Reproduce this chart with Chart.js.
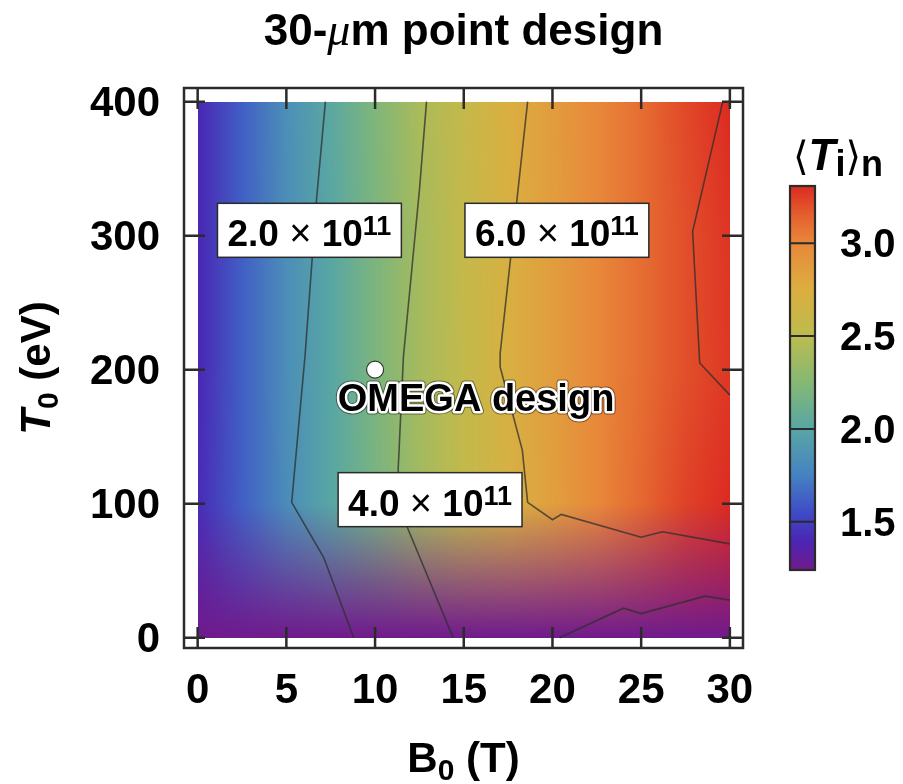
<!DOCTYPE html>
<html>
<head>
<meta charset="utf-8">
<script src="https://cdn.jsdelivr.net/npm/chart.js@4.4.0/dist/chart.umd.min.js"></script>
<style>
  html, body { margin: 0; padding: 0; background: #fff; }
  canvas { display: block; }
</style>
</head>
<body>
<canvas id="chart" width="903" height="784"></canvas>
<script>
// 30-um point design: <Ti>_n map over B0 / T0 with yield contours

// grid nodes
const bNodes = [0, 2.5, 5, 7.5, 10, 12.5, 15, 17.5, 20, 22.5, 25, 27.5, 30];
const tNodes = [0, 100, 200, 300, 400];
const tiAt0   = [1.24, 1.24, 1.24, 1.24, 1.24, 1.24, 1.24, 1.24, 1.24, 1.24, 1.24, 1.24, 1.24];
const tiAt100 = [1.42, 1.62, 1.82, 2.00, 2.18, 2.38, 2.55, 2.70, 2.85, 3.00, 3.12, 3.24, 3.31];
const tiAt200 = [1.40, 1.62, 1.83, 2.00, 2.20, 2.40, 2.55, 2.72, 2.86, 3.00, 3.10, 3.20, 3.27];
const tiAt300 = [1.40, 1.62, 1.83, 2.00, 2.20, 2.40, 2.56, 2.72, 2.86, 3.00, 3.10, 3.20, 3.28];
const tiAt400 = [1.40, 1.62, 1.84, 2.02, 2.22, 2.42, 2.57, 2.73, 2.87, 3.00, 3.10, 3.22, 3.31];

// colour map of the bar
const cmapValues = [1.24, 1.40, 1.55, 1.75, 2.00, 2.25, 2.50, 2.75, 3.00, 3.15, 3.31];
const cmapColors = ['#701a8c', '#4a26b4', '#3e4cc6', '#4682c2', '#58a6a4', '#84b874',
                    '#bcbc4e', '#dcae40', '#e8883a', '#e4602e', '#dc2a22'];

// yield contours (B0, T0)
const c2B = [7.2, 6.7, 6.05, 5.3, 7.1, 8.8];
const c2T = [400, 327, 210, 101, 60, 0];
const c4B = [12.9, 12.5, 11.6, 11.3, 11.8, 14.4];
const c4T = [400, 334, 210, 125, 83, 0];
const c6B = [18.6, 18.0, 17.05, 17.05, 18.3, 18.6, 20.0, 20.5, 25.0, 26.2, 30];
const c6T = [400, 327, 212, 202, 140, 101, 88, 92, 75, 79, 70];
const c8B = [29.6, 27.9, 28.3, 30];
const c8T = [400, 303, 205, 181];
const cLowB = [20.4, 24.0, 25.0, 28.6, 30];
const cLowT = [0, 22, 18, 31, 28];

const labelTexts = ['2.0', '6.0', '4.0'];
const labelB = [6.3, 20.25, 13.1];
const labelT = [304, 304, 103];

const omegaB = [10];
const omegaT = [200];

const bTicks = [0, 5, 10, 15, 20, 25, 30];
const tTicks = [0, 100, 200, 300, 400];
const cbTicks = [1.5, 2.0, 2.5, 3.0];
const cbMin = 1.24, cbMax = 3.31;

const SANS = '"Liberation Sans", Arial, Helvetica, sans-serif';
const INK = '#2b2b2b';

function hexToRgb(h) {
    return [parseInt(h.slice(1, 3), 16), parseInt(h.slice(3, 5), 16), parseInt(h.slice(5, 7), 16)];
}
const cmapRgb = cmapColors.map(hexToRgb);

function colorFor(v) {
    if (v <= cmapValues[0]) return cmapRgb[0];
    for (let i = 1; i < cmapValues.length; i++) {
        if (v <= cmapValues[i]) {
            const f = (v - cmapValues[i - 1]) / (cmapValues[i] - cmapValues[i - 1]);
            const a = cmapRgb[i - 1], b = cmapRgb[i];
            return [a[0] + (b[0] - a[0]) * f, a[1] + (b[1] - a[1]) * f, a[2] + (b[2] - a[2]) * f];
        }
    }
    return cmapRgb[cmapRgb.length - 1];
}

function findCell(nodes, v) {
    let k = 0;
    while (k < nodes.length - 2 && v > nodes[k + 1]) k++;
    let f = (v - nodes[k]) / (nodes[k + 1] - nodes[k]);
    return [k, Math.max(0, Math.min(1, f))];
}

function pairs(bs, ts) {
    return bs.map((b, i) => ({ x: b, y: ts[i] }));
}

// draws a row of text pieces with their own fonts
function drawRuns(ctx, runs, x, y, align) {
    let total = 0;
    runs.forEach(r => { ctx.font = r.font; r.w = ctx.measureText(r.text).width; total += r.w; });
    let cx = align === 'center' ? x - total / 2 : (align === 'right' ? x - total : x);
    runs.forEach(r => {
        ctx.font = r.font;
        ctx.fillText(r.text, cx, y + (r.dy || 0));
        cx += r.w;
    });
    return total;
}

const heatmapPlugin = {
    id: 'heatmap',
    beforeDatasetsDraw(chart) {
        const { ctx, scales: { x, y } } = chart;
        const rows = [tiAt0, tiAt100, tiAt200, tiAt300, tiAt400];
        const nodeRgb = rows.map(r => r.map(colorFor));
        const x0 = Math.round(x.getPixelForValue(bNodes[0]));
        const x1 = Math.round(x.getPixelForValue(bNodes[bNodes.length - 1]));
        const y0 = Math.round(y.getPixelForValue(tNodes[tNodes.length - 1]));
        const y1 = Math.round(y.getPixelForValue(tNodes[0]));
        const w = x1 - x0, h = y1 - y0;
        const off = document.createElement('canvas');
        off.width = w; off.height = h;
        const octx = off.getContext('2d');
        const img = octx.createImageData(w, h);
        for (let j = 0; j < h; j++) {
            const [k, ft] = findCell(tNodes, y.getValueForPixel(y0 + j + 0.5));
            for (let i = 0; i < w; i++) {
                const [m, fb] = findCell(bNodes, x.getValueForPixel(x0 + i + 0.5));
                const c00 = nodeRgb[k][m], c01 = nodeRgb[k][m + 1];
                const c10 = nodeRgb[k + 1][m], c11 = nodeRgb[k + 1][m + 1];
                const p = (j * w + i) * 4;
                for (let ch = 0; ch < 3; ch++) {
                    const lo = c00[ch] + (c01[ch] - c00[ch]) * fb;
                    const hi = c10[ch] + (c11[ch] - c10[ch]) * fb;
                    img.data[p + ch] = lo + (hi - lo) * ft;
                }
                img.data[p + 3] = 255;
            }
        }
        octx.putImageData(img, 0, 0);
        ctx.drawImage(off, x0, y0);
    }
};

const overlayPlugin = {
    id: 'overlay',
    afterDatasetsDraw(chart) {
        const { ctx, chartArea: a, scales: { x, y } } = chart;
        ctx.save();
        ctx.strokeStyle = INK;
        ctx.lineWidth = 2.5;
        ctx.strokeRect(a.left, a.top, a.right - a.left, a.bottom - a.top);
        // inward ticks on all four sides
        ctx.beginPath();
        bTicks.forEach(b => {
            const px = x.getPixelForValue(b);
            ctx.moveTo(px, a.bottom); ctx.lineTo(px, a.bottom - 21);
            ctx.moveTo(px, a.top); ctx.lineTo(px, a.top + 21);
        });
        tTicks.forEach(t => {
            const py = y.getPixelForValue(t);
            ctx.moveTo(a.left, py); ctx.lineTo(a.left + 21, py);
            ctx.moveTo(a.right, py); ctx.lineTo(a.right - 21, py);
        });
        ctx.stroke();

        // contour value boxes
        labelTexts.forEach((txt, i) => {
            const cx = x.getPixelForValue(labelB[i]);
            const cy = y.getPixelForValue(labelT[i]);
            const runs = [
                { text: txt + ' ', font: 'bold 37px ' + SANS },
                { text: '\u00d7', font: '38px ' + SANS },
                { text: ' 10', font: 'bold 37px ' + SANS },
                { text: '11', font: 'bold 27px ' + SANS, dy: -11 }
            ];
            let tw = 0;
            runs.forEach(r => { ctx.font = r.font; tw += ctx.measureText(r.text).width; });
            const bw = tw + 20, bh = 54;
            ctx.fillStyle = '#fff';
            ctx.fillRect(cx - bw / 2, cy - bh / 2, bw, bh);
            ctx.strokeStyle = INK;
            ctx.lineWidth = 1.5;
            ctx.strokeRect(cx - bw / 2, cy - bh / 2, bw, bh);
            ctx.fillStyle = '#000';
            ctx.textBaseline = 'alphabetic';
            drawRuns(ctx, runs, cx, cy + 16, 'center');
        });

        // OMEGA design label with a white halo
        const ox = x.getPixelForValue(omegaB[0]) + 101;
        const oy = y.getPixelForValue(omegaT[0]) + 41;
        ctx.font = 'bold 38px ' + SANS;
        ctx.textAlign = 'center';
        ctx.textBaseline = 'alphabetic';
        ctx.lineJoin = 'round';
        ctx.strokeStyle = 'rgba(0,0,0,0.45)';
        ctx.lineWidth = 7;
        ctx.strokeText('OMEGA design', ox, oy);
        ctx.strokeStyle = '#fff';
        ctx.lineWidth = 5;
        ctx.strokeText('OMEGA design', ox, oy);
        ctx.fillStyle = '#000';
        ctx.fillText('OMEGA design', ox, oy);
        ctx.restore();
    },
    afterDraw(chart) {
        const { ctx, chartArea: a, scales: { x, y, cb } } = chart;
        ctx.save();
        ctx.fillStyle = '#000';
        ctx.textBaseline = 'alphabetic';

        // tick labels
        ctx.font = 'bold 42px ' + SANS;
        ctx.textAlign = 'center';
        bTicks.forEach(b => ctx.fillText(String(b), x.getPixelForValue(b), a.bottom + 55));
        ctx.textAlign = 'right';
        tTicks.forEach(t => ctx.fillText(String(t), 160, y.getPixelForValue(t) + 14));
        ctx.textAlign = 'left';

        // title
        drawRuns(ctx, [
            { text: '30-', font: 'bold 44px ' + SANS },
            { text: '\u03bc', font: 'italic 46px "Liberation Serif", serif' },
            { text: 'm point design', font: 'bold 44px ' + SANS }
        ], (a.left + a.right) / 2, 45, 'center');

        // x axis title
        drawRuns(ctx, [
            { text: 'B', font: 'bold 42px ' + SANS },
            { text: '0', font: 'bold 30px ' + SANS, dy: 8 },
            { text: ' (T)', font: 'bold 42px ' + SANS }
        ], (a.left + a.right) / 2, 772, 'center');

        // y axis title
        ctx.save();
        ctx.translate(50, (a.top + a.bottom) / 2);
        ctx.rotate(-Math.PI / 2);
        drawRuns(ctx, [
            { text: 'T', font: 'italic bold 42px ' + SANS },
            { text: '0', font: 'bold 30px ' + SANS, dy: 8 },
            { text: ' (eV)', font: 'bold 42px ' + SANS }
        ], 0, 0, 'center');
        ctx.restore();

        // colour bar
        const bx0 = 790, bx1 = 815;
        const top = Math.round(cb.getPixelForValue(cbMax));
        const bot = Math.round(cb.getPixelForValue(cbMin));
        for (let py = top; py < bot; py++) {
            const c = colorFor(cb.getValueForPixel(py + 0.5));
            ctx.fillStyle = 'rgb(' + c.map(Math.round).join(',') + ')';
            ctx.fillRect(bx0, py, bx1 - bx0, 1);
        }
        ctx.strokeStyle = INK;
        ctx.lineWidth = 2;
        ctx.beginPath();
        cbTicks.forEach(v => {
            const py = cb.getPixelForValue(v);
            ctx.moveTo(bx0, py); ctx.lineTo(bx1, py);
        });
        ctx.stroke();
        ctx.lineWidth = 2.2;
        ctx.strokeRect(bx0, top, bx1 - bx0, bot - top);

        ctx.fillStyle = '#000';
        ctx.font = 'bold 40px ' + SANS;
        ctx.textAlign = 'left';
        cbTicks.forEach(v => ctx.fillText(v.toFixed(1), 840, cb.getPixelForValue(v) + 14));

        drawRuns(ctx, [
            { text: '\u27e8', font: '40px "DejaVu Sans", sans-serif' },
            { text: 'T', font: 'italic bold 44px ' + SANS },
            { text: 'i', font: 'bold 36px ' + SANS, dy: 6 },
            { text: '\u27e9', font: '40px "DejaVu Sans", sans-serif' },
            { text: 'n', font: 'bold 36px ' + SANS, dy: 6 }
        ], 793, 170, 'left');
        ctx.restore();
    }
};

const lineStyle = {
    showLine: true,
    pointRadius: 0,
    borderColor: 'rgba(45,45,45,0.75)',
    borderWidth: 1.6,
    fill: false,
    tension: 0
};

new Chart(document.getElementById('chart'), {
    type: 'scatter',
    data: {
        datasets: [
            Object.assign({ label: '2e11', data: pairs(c2B, c2T) }, lineStyle),
            Object.assign({ label: '4e11', data: pairs(c4B, c4T) }, lineStyle),
            Object.assign({ label: '6e11', data: pairs(c6B, c6T) }, lineStyle),
            Object.assign({ label: '8e11', data: pairs(c8B, c8T) }, lineStyle),
            Object.assign({ label: 'low', data: pairs(cLowB, cLowT) }, lineStyle),
            {
                label: 'OMEGA design',
                data: pairs(omegaB, omegaT),
                pointRadius: 8.5,
                pointBackgroundColor: '#fff',
                pointBorderColor: '#333',
                pointBorderWidth: 1.2
            }
        ]
    },
    options: {
        responsive: false,
        animation: false,
        devicePixelRatio: 1,
        layout: { padding: { left: 184, right: 160, top: 88, bottom: 136 } },
        plugins: {
            legend: { display: false },
            tooltip: { enabled: false },
            title: { display: false }
        },
        scales: {
            x: { type: 'linear', min: -0.77, max: 30.74, display: false },
            y: { type: 'linear', min: -7.7, max: 410.2, display: false },
            cb: { type: 'linear', axis: 'y', min: 0.8195, max: 3.8367, display: false }
        }
    },
    plugins: [heatmapPlugin, overlayPlugin]
});
</script>
</body>
</html>
